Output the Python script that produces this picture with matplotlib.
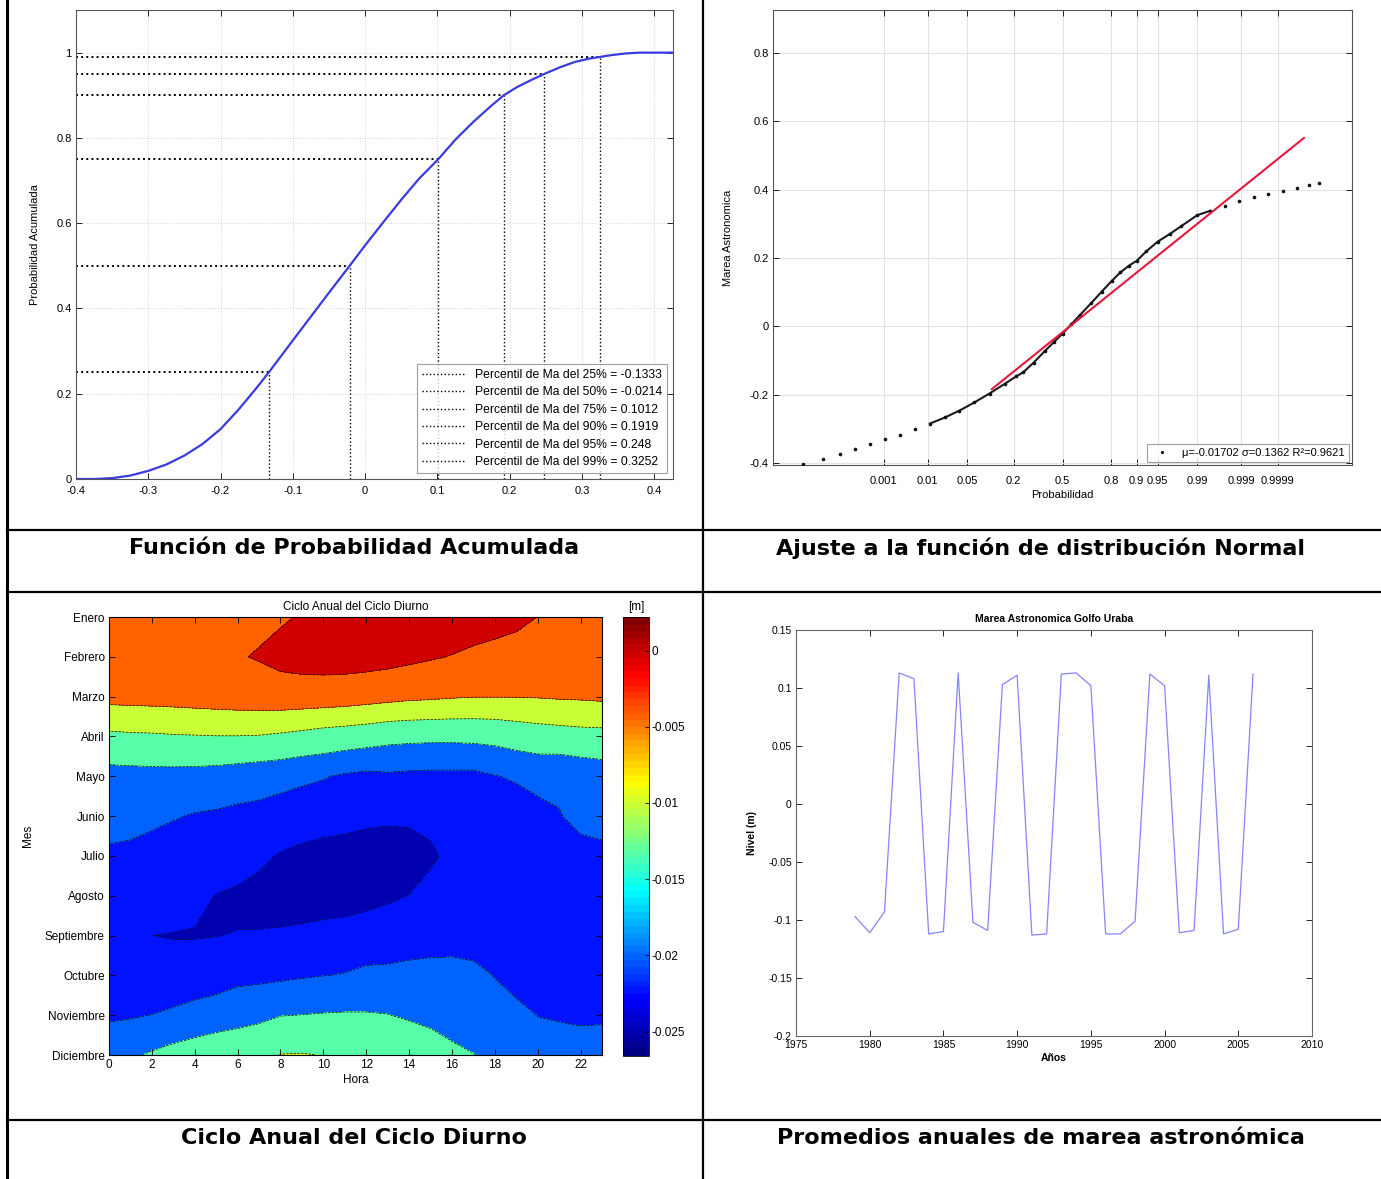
from statistics import NormalDist

import numpy as np
import matplotlib
matplotlib.use("Agg")
import matplotlib.pyplot as plt
import matplotlib.colors as mcolors
import matplotlib.cm as cm
from matplotlib.lines import Line2D
from matplotlib.ticker import FuncFormatter

plt.rcParams["font.family"] = ["Liberation Sans", "DejaVu Sans"]

W, H = 1381, 1179

# -------------------- datos --------------------

# Funcion de probabilidad acumulada de la marea astronomica (Ma)
cdf_x = [-0.400, -0.375, -0.350, -0.325, -0.300, -0.275, -0.250, -0.225, -0.200, -0.175,
         -0.150, -0.1333, -0.100, -0.075, -0.050, -0.025, -0.0214, 0.000, 0.025, 0.050,
         0.075, 0.1012, 0.125, 0.150, 0.175, 0.1919, 0.210, 0.230, 0.248, 0.270, 0.290,
         0.310, 0.3252, 0.340, 0.360, 0.380, 0.400, 0.430]
cdf_p = [0.0, 0.0, 0.002, 0.008, 0.019, 0.034, 0.055, 0.082, 0.117, 0.163,
         0.214, 0.25, 0.325, 0.381, 0.437, 0.492, 0.50, 0.548, 0.602, 0.655,
         0.705, 0.75, 0.796, 0.838, 0.876, 0.90, 0.919, 0.936, 0.95, 0.966, 0.978,
         0.986, 0.99, 0.994, 0.998, 1.0, 1.0, 1.0]
percentiles = [25, 50, 75, 90, 95, 99]
percentil_ma = [-0.1333, -0.0214, 0.1012, 0.1919, 0.248, 0.3252]

# Grafico de probabilidad normal (cuantil normal estandar vs Ma)
qq_z = [-4.48, -4.14, -3.84, -3.59, -3.33, -3.07, -2.81, -2.55, -2.29, -2.03, -1.78, -1.52,
        -1.26, -1.00, -0.80, -0.674, -0.50, -0.30, -0.15, 0.00, 0.15, 0.30, 0.50, 0.674,
        0.85, 1.00, 1.15, 1.2816, 1.45, 1.645, 1.85, 2.05, 2.326, 2.55, 2.80, 3.05, 3.30,
        3.55, 3.80, 4.05, 4.25, 4.43]
qq_ma = [-0.402, -0.388, -0.372, -0.358, -0.344, -0.330, -0.316, -0.300, -0.284, -0.266,
         -0.246, -0.222, -0.196, -0.168, -0.146, -0.1333, -0.106, -0.071, -0.046, -0.0214,
         0.006, 0.033, 0.069, 0.1012, 0.133, 0.158, 0.178, 0.1919, 0.220, 0.248, 0.270,
         0.293, 0.3252, 0.338, 0.352, 0.368, 0.378, 0.388, 0.397, 0.405, 0.412, 0.420]
ajuste_mu, ajuste_sigma, ajuste_r2 = -0.01702, 0.1362, 0.9621
ajuste_z = [-1.22, 4.17]
prob_ticks = [0.001, 0.01, 0.05, 0.2, 0.5, 0.8, 0.9, 0.95, 0.99, 0.999, 0.9999]

# Ciclo anual del ciclo diurno [m], filas = meses, columnas = hora 0..23
meses = ["Enero", "Febrero", "Marzo", "Abril", "Mayo", "Junio", "Julio", "Agosto",
         "Septiembre", "Octubre", "Noviembre", "Diciembre"]
horas = list(range(24))
ciclo_diurno = [
    [-0.0045, -0.0044, -0.0043, -0.0042, -0.0040, -0.0038, -0.0035, -0.0031, -0.0023, -0.0010, 0.0005, 0.0012,
     0.0018, 0.0022, 0.0021, 0.0019, 0.0017, 0.0003, 0.0000, -0.0005, -0.00155, -0.0025, -0.0033, -0.0038],
    [-0.0043, -0.0041, -0.0039, -0.0036, -0.0033, -0.0028, -0.0020, -0.0010, 0.0006, 0.0014, 0.0017, 0.0016,
     0.0012, 0.0006, -0.0002, -0.0010, -0.0017, -0.0022, -0.0027, -0.0032, -0.0037, -0.0042, -0.0045, -0.0047],
    [-0.0063, -0.0062, -0.0061, -0.0060, -0.0058, -0.0056, -0.0054, -0.0053, -0.0051, -0.0052, -0.0053, -0.0055,
     -0.0059, -0.0063, -0.0067, -0.0069, -0.0072, -0.0074, -0.0074, -0.0074, -0.0073, -0.0071, -0.0070, -0.0068],
    [-0.0123, -0.0121, -0.0120, -0.0118, -0.0117, -0.0116, -0.0116, -0.0117, -0.0121, -0.0126, -0.0132, -0.0136,
     -0.0140, -0.0146, -0.0148, -0.0149, -0.0149, -0.0148, -0.0146, -0.0140, -0.0135, -0.0132, -0.0129, -0.0128],
    [-0.0171, -0.0170, -0.0169, -0.0169, -0.0170, -0.0172, -0.0176, -0.0180, -0.0183, -0.0188, -0.0190, -0.0196,
     -0.0200, -0.0197, -0.0199, -0.0200, -0.0200, -0.0200, -0.0193, -0.0189, -0.0185, -0.0188, -0.0183, -0.0178],
    [-0.0185, -0.0186, -0.0188, -0.0190, -0.0194, -0.0196, -0.0199, -0.0200, -0.0204, -0.0204, -0.0212, -0.0222,
     -0.0222, -0.0224, -0.0223, -0.0222, -0.0214, -0.0213, -0.0206, -0.0206, -0.0199, -0.0193, -0.0187, -0.0186],
    [-0.0195, -0.0196, -0.0199, -0.0207, -0.0212, -0.0208, -0.0215, -0.0225, -0.0235, -0.0245, -0.0249, -0.0244,
     -0.0253, -0.0256, -0.0254, -0.0238, -0.0223, -0.0218, -0.0214, -0.0212, -0.0207, -0.0203, -0.0198, -0.0196],
    [-0.0205, -0.0210, -0.0215, -0.0209, -0.0224, -0.0233, -0.0238, -0.0243, -0.0250, -0.0260, -0.0266, -0.0262,
     -0.0255, -0.0240, -0.0231, -0.0220, -0.0215, -0.0214, -0.0215, -0.0214, -0.0212, -0.0209, -0.0207, -0.0206],
    [-0.0212, -0.0218, -0.02318, -0.0234, -0.0234, -0.02325, -0.0231, -0.0230, -0.0227, -0.0220, -0.0209, -0.0206,
     -0.0195, -0.0202, -0.0205, -0.0202, -0.0200, -0.0206, -0.0210, -0.0212, -0.0212, -0.0211, -0.0211, -0.0210],
    [-0.0208, -0.0214, -0.0220, -0.0214, -0.0213, -0.0210, -0.0200, -0.0200, -0.0198, -0.0195, -0.01925, -0.0191,
     -0.0191, -0.0188, -0.0184, -0.0184, -0.0185, -0.0184, -0.0193, -0.0203, -0.0206, -0.0207, -0.0207, -0.0206],
    [-0.0197, -0.0195, -0.01915, -0.01865, -0.0179, -0.01725, -0.0172, -0.0164, -0.0158, -0.01565, -0.0155, -0.0154,
     -0.0154, -0.0156, -0.0162, -0.0170, -0.0180, -0.0178, -0.0180, -0.0184, -0.01925, -0.0195, -0.0196, -0.0196],
    [-0.0169, -0.0162, -0.0153, -0.0145, -0.0140, -0.0137, -0.0127, -0.0131, -0.0114, -0.0113, -0.0116, -0.0122,
     -0.0126, -0.0130, -0.0126, -0.0131, -0.0145, -0.0156, -0.0165, -0.0168, -0.0180, -0.0177, -0.0181, -0.0179],
]
niveles = [-0.0275, -0.0232, -0.0192, -0.0157, -0.0115, -0.0075, -0.0015, 0.0030]
tono_banda = [-0.0249, -0.0223, -0.0201, -0.0134, -0.0103, -0.0043, -0.0001]
rango_cbar = (-0.0266, 0.0022)
cbar_ticks = [-0.025, -0.02, -0.015, -0.01, -0.005, 0]

# Promedios anuales de marea astronomica
anios = list(range(1979, 2007))
nivel_anual = [-0.097, -0.111, -0.093, 0.113, 0.108, -0.112, -0.110, 0.113, -0.102, -0.109,
               0.103, 0.111, -0.113, -0.112, 0.112, 0.113, 0.102, -0.112, -0.112, -0.101,
               0.112, 0.102, -0.111, -0.109, 0.111, -0.112, -0.108, 0.112]


# -------------------- utilidades --------------------

def rect(x0, y0, x1, y1):
    """Pixel box (top-left origin) -> figure fraction rect."""
    return [x0 / W, 1 - y1 / H, (x1 - x0) / W, (y1 - y0) / H]


def estilo_matlab(ax, size=8, spine="#555555", xpad=3):
    ax.tick_params(direction="in", top=True, right=True, length=4, width=0.6,
                   labelsize=size, pad=3)
    ax.tick_params(axis="x", pad=xpad)
    for s in ax.spines.values():
        s.set_color(spine)
        s.set_linewidth(0.8)


fmt_g = FuncFormatter(lambda v, _: f"{round(v, 3) + 0:g}")

# jet como en MATLAB (64 colores)
jet_matlab = mcolors.LinearSegmentedColormap("jet_matlab", {
    "red": [(0, 0, 0), (0.375, 0, 0), (0.625, 1, 1), (0.875, 1, 1), (1, 0.5, 0.5)],
    "green": [(0, 0, 0), (0.125, 0, 0), (0.375, 1, 1), (0.625, 1, 1), (0.875, 0, 0), (1, 0, 0)],
    "blue": [(0, 0.5, 0.5), (0.125, 1, 1), (0.375, 1, 1), (0.625, 0, 0), (1, 0, 0)],
}, N=64)

fig = plt.figure(figsize=(W / 100, H / 100), dpi=100)

# -------------------- 1. probabilidad acumulada --------------------
ax1 = fig.add_axes(rect(76, 10, 673, 479))
ax1.set_xlim(-0.4, 0.426)
ax1.set_ylim(0, 1.1)
ax1.set_xticks(np.arange(-0.4, 0.41, 0.1))
ax1.set_yticks([0, 0.2, 0.4, 0.6, 0.8, 1.0])
ax1.xaxis.set_major_formatter(fmt_g)
ax1.yaxis.set_major_formatter(fmt_g)
ax1.grid(True, color="#d6d6d6", ls=":", lw=0.7)
ax1.plot(cdf_x, cdf_p, color="#3a3ae0", lw=1.6, zorder=3)

handles = []
for p, v in zip(percentiles, percentil_ma):
    pf = p / 100
    ax1.plot([-0.4, v], [pf, pf], color="k", ls=":", lw=1.4, zorder=2)
    ax1.plot([v, v], [0, pf], color="k", ls=":", lw=1.0, zorder=2)
    handles.append(Line2D([], [], color="k", ls=":", lw=1.0,
                          label=f"Percentil de Ma del {p}% = {v:g}"))
leg1 = ax1.legend(handles=handles, loc="lower right", fontsize=8.7, frameon=True,
                  fancybox=False, edgecolor="#888888", handlelength=3.6,
                  labelspacing=0.45, borderpad=0.4, borderaxespad=0.5)
leg1.get_frame().set_linewidth(0.8)
ax1.set_ylabel("Probabilidad Acumulada", fontsize=8, labelpad=12)
estilo_matlab(ax1, xpad=5)

# -------------------- 2. ajuste normal --------------------
nd = NormalDist()
ax2 = fig.add_axes(rect(773, 10, 1352, 465))
ax2.set_xlim(-5, 5)
ax2.set_ylim(-0.405, 0.925)
ax2.set_xticks([nd.inv_cdf(p) for p in prob_ticks])
ax2.set_xticklabels([f"{p:g}" for p in prob_ticks])
ax2.set_yticks([-0.4, -0.2, 0, 0.2, 0.4, 0.6, 0.8])
ax2.yaxis.set_major_formatter(fmt_g)
ax2.grid(True, color="#e2e2e2", lw=0.8)

qz = np.array(qq_z)
qv = np.array(qq_ma)
denso = (qz >= -2.3) & (qz <= 2.6)
ax2.plot(qz[denso], qv[denso], color="#1b1b1b", lw=1.5, zorder=3)
ax2.plot(qz, qv, ls="none", marker=".", ms=3.2, color="#111111", zorder=3,
         label=f"μ={ajuste_mu:g} σ={ajuste_sigma:g} R²={ajuste_r2:g}")
fz = np.array(ajuste_z)
ax2.plot(fz, ajuste_mu + ajuste_sigma * fz, color="#e8173c", lw=1.5, zorder=4)
leg2 = ax2.legend(loc="lower right", fontsize=8, frameon=True, fancybox=False,
                  edgecolor="#888888", handlelength=2.0, borderpad=0.35,
                  borderaxespad=0.3, markerscale=0.8)
leg2.get_frame().set_linewidth(0.8)
ax2.set_xlabel("Probabilidad", fontsize=8, labelpad=3)
ax2.set_ylabel("Marea Astronomica", fontsize=8, labelpad=12)
estilo_matlab(ax2, xpad=8)

# -------------------- 3. ciclo anual del ciclo diurno --------------------
norm = mcolors.Normalize(*rango_cbar)
colores = [jet_matlab(norm(v)) for v in tono_banda]

ax3 = fig.add_axes(rect(109, 617, 602, 1055))
mes_idx = np.arange(1, len(meses) + 1)
Z = np.array(ciclo_diurno)
ax3.contourf(horas, mes_idx, Z, levels=niveles, colors=colores)
ax3.contour(horas, mes_idx, Z, levels=niveles[1:-1], colors="k", linewidths=0.5)
ax3.set_xlim(0, 23)
ax3.set_ylim(12, 1)
ax3.set_xticks(range(0, 23, 2))
ax3.set_yticks(mes_idx)
ax3.set_yticklabels(meses)
ax3.set_title("Ciclo Anual del Ciclo Diurno", fontsize=8.5, pad=5)
ax3.set_xlabel("Hora", fontsize=8.5, labelpad=2)
ax3.set_ylabel("Mes", fontsize=8.5, labelpad=8)
estilo_matlab(ax3, size=8.5, spine="k")

cax = fig.add_axes(rect(623, 617, 649, 1056))
cb = fig.colorbar(cm.ScalarMappable(norm=norm, cmap=jet_matlab), cax=cax)
cb.set_ticks(cbar_ticks)
cb.ax.yaxis.set_major_formatter(fmt_g)
cb.ax.tick_params(direction="in", length=3, width=0.6, labelsize=8.5, pad=2)
cb.outline.set_linewidth(0.6)
cax.set_title("[m]", fontsize=8.5, pad=5)

# -------------------- 4. promedios anuales --------------------
ax4 = fig.add_axes(rect(796, 630, 1312, 1036))
ax4.plot(anios, nivel_anual, color="#8585ff", lw=0.9)
ax4.set_xlim(1975, 2010)
ax4.set_ylim(-0.2, 0.15)
ax4.set_xticks(range(1975, 2011, 5))
ax4.set_yticks(np.arange(-0.2, 0.151, 0.05))
ax4.yaxis.set_major_formatter(fmt_g)
ax4.set_title("Marea Astronomica Golfo Uraba", fontsize=7.5, fontweight="bold", pad=6)
ax4.set_xlabel("Años", fontsize=7.5, fontweight="bold", labelpad=2)
ax4.set_ylabel("Nivel (m)", fontsize=7.5, fontweight="bold", labelpad=8)
estilo_matlab(ax4, size=7.5, spine="#666666")

# -------------------- tabla y leyendas --------------------
def linea(x0, y0, x1, y1, lw=1.6):
    fig.add_artist(Line2D([x0 / W, x1 / W], [1 - y0 / H, 1 - y1 / H],
                          transform=fig.transFigure, color="k", lw=lw))


linea(7, 0, 7, H, lw=2.2)
linea(703, 0, 703, H)
for y in (530, 592, 1120):
    linea(7, y, W, y)

pies = [("Función de Probabilidad Acumulada", 354, 548),
        ("Ajuste a la función de distribución Normal", 1041, 548),
        ("Ciclo Anual del Ciclo Diurno", 354, 1138),
        ("Promedios anuales de marea astronómica", 1041, 1138)]
for texto, x, y in pies:
    fig.text(x / W, 1 - y / H, texto, ha="center", va="center", fontsize=16,
             fontweight="bold", family="DejaVu Sans")

fig.savefig("out.png", dpi=100)
